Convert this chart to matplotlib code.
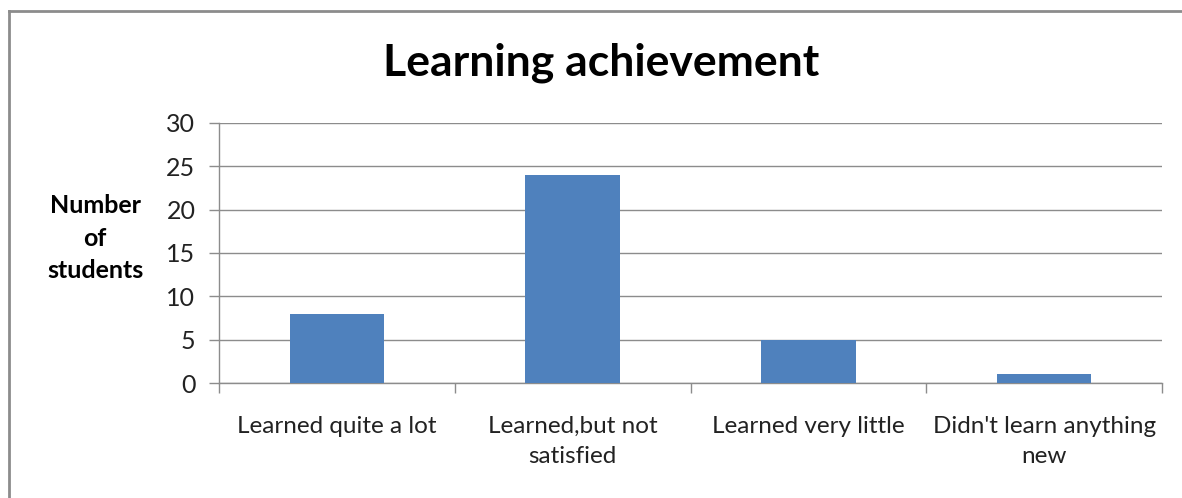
import matplotlib
matplotlib.use("Agg")
import matplotlib.pyplot as plt
from matplotlib.lines import Line2D
import numpy as np

categories = ["Learned quite a lot", "Learned,but not\nsatisfied", "Learned very little", "Didn't learn anything\nnew"]
values = [8, 24, 5, 1]
yticks = [0, 5, 10, 15, 20, 25, 30]
title = "Learning achievement"
ylabel = "Number\nof\nstudents"

plt.rcParams['font.family'] = ['Lato', 'DejaVu Sans']

W, H = 1182, 498
fig = plt.figure(figsize=(W/100, H/100), dpi=100)
fig.patch.set_facecolor('white')

# outer chart border (top and left edges visible)
fig.add_artist(Line2D([9/W, 1.0], [1 - 11/H, 1 - 11/H], transform=fig.transFigure,
                      color='#8c8c8c', linewidth=2))
fig.add_artist(Line2D([9/W, 9/W], [0.0, 1 - 11/H], transform=fig.transFigure,
                      color='#8c8c8c', linewidth=2))

ax = fig.add_axes([219/W, 1 - 383/H, (1162-219)/W, (383-123)/H])
x = np.arange(len(categories))
ax.bar(x, values, width=0.4, color='#4F81BD', zorder=3)
ax.set_xlim(-0.5, len(categories) - 0.5)
ax.set_ylim(0, 30)
ax.set_yticks(yticks)
ax.set_yticklabels([str(t) for t in yticks], fontsize=18, color='#222222')
ax.yaxis.grid(True, color='#8c8c8c', linewidth=1, zorder=0)
ax.tick_params(axis='y', length=7, width=1, color='#8c8c8c', pad=10)

ax.set_xticks(np.arange(len(categories) + 1) - 0.5)
ax.set_xticklabels([])
ax.set_xticks(x, minor=True)
ax.set_xticklabels(categories, minor=True, fontsize=17.5, color='#222222', linespacing=1.5, va='top')
ax.tick_params(axis='x', which='major', length=7, width=1, color='#8c8c8c')
ax.tick_params(axis='x', which='minor', length=0, pad=24)

for s in ['top', 'right']:
    ax.spines[s].set_visible(False)
for s in ['left', 'bottom']:
    ax.spines[s].set_color('#8c8c8c')
    ax.spines[s].set_linewidth(1)

fig.text(601/W, 1 - 63/H, title, ha='center', va='center', fontsize=32, fontweight='bold', color='black')
fig.text(95/W, 1 - 238/H, ylabel, ha='center', va='center', fontsize=18, fontweight='bold',
         color='black', linespacing=1.48)

fig.savefig('out.png', dpi=100, facecolor='white')
